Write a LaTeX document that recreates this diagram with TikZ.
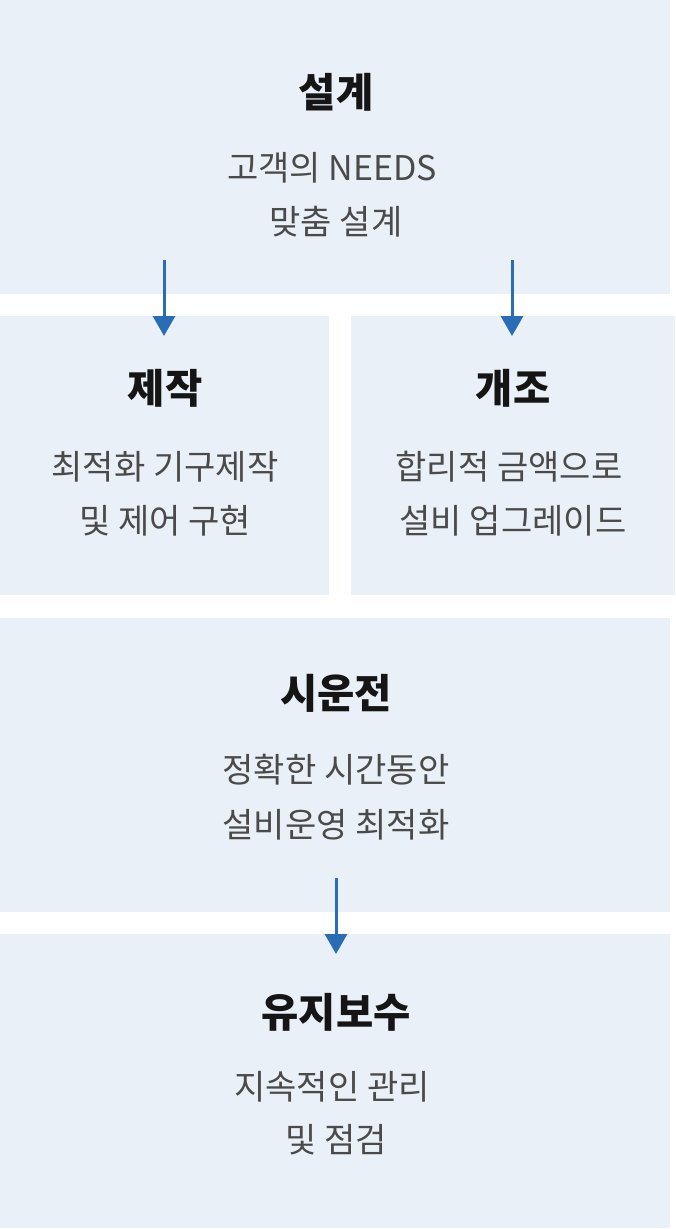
\documentclass[tikz,border=0pt]{standalone}
\usepackage{fontspec}
\setmainfont{Noto Sans CJK KR}
\usetikzlibrary{arrows.meta}
\definecolor{boxbg}{HTML}{E9F0F7}
\definecolor{arrowblue}{HTML}{2A6DB6}
\definecolor{titlecol}{HTML}{151515}
\definecolor{subcol}{HTML}{4A4A4A}
\tikzset{
  panel/.style={fill=boxbg, draw=none},
  titletext/.style={font=\fontsize{40.5}{45}\selectfont\bfseries, text=titlecol, inner sep=0pt},
  subtext/.style={font=\fontsize{34}{38}\selectfont, text=subcol, inner sep=0pt},
  flow/.style={draw=arrowblue, line width=3pt, -{Triangle[width=22pt,length=20pt]}}
}
\begin{document}
\begin{tikzpicture}[x=1pt,y=-1pt]
\useasboundingbox (0,0) rectangle (675,1229);
% panels
\path[panel] (0,0) rectangle (670,294);
\path[panel] (0,316) rectangle (329,595);
\path[panel] (351,316) rectangle (675,595);
\path[panel] (0,618) rectangle (670,912);
\path[panel] (0,934) rectangle (670,1228);
% texts
\node[titletext] (t1) at (336,92) {설계};
\node[subtext] (s1a) at (332,168) {고객의 NEEDS};
\node[subtext] (s1b) at (336,222) {맞춤 설계};
\node[titletext] (t2) at (165,388) {제작};
\node[subtext] (s2a) at (165,467) {최적화 기구제작};
\node[subtext] (s2b) at (165,521) {및 제어 구현};
\node[titletext] (t3) at (513,388) {개조};
\node[subtext] (s3a) at (509,467) {합리적 금액으로};
\node[subtext] (s3b) at (513,521) {설비 업그레이드};
\node[titletext] (t4) at (336,693) {시운전};
\node[subtext] (s4a) at (336,770) {정확한 시간동안};
\node[subtext] (s4b) at (336,825) {설비운영 최적화};
\node[titletext] (t5) at (336,1012) {유지보수};
\node[subtext] (s5a) at (332,1087) {지속적인 관리};
\node[subtext] (s5b) at (336,1140) {및 점검};
% arrows
\coordinate (a1s) at (164,260);
\coordinate (a1e) at (164,336);
\coordinate (a2s) at (512,260);
\coordinate (a2e) at (512,336);
\coordinate (a3s) at (336,878);
\coordinate (a3e) at (336,954);
\draw[flow] (a1s) -- (a1e);
\draw[flow] (a2s) -- (a2e);
\draw[flow] (a3s) -- (a3e);
\end{tikzpicture}
\end{document}
